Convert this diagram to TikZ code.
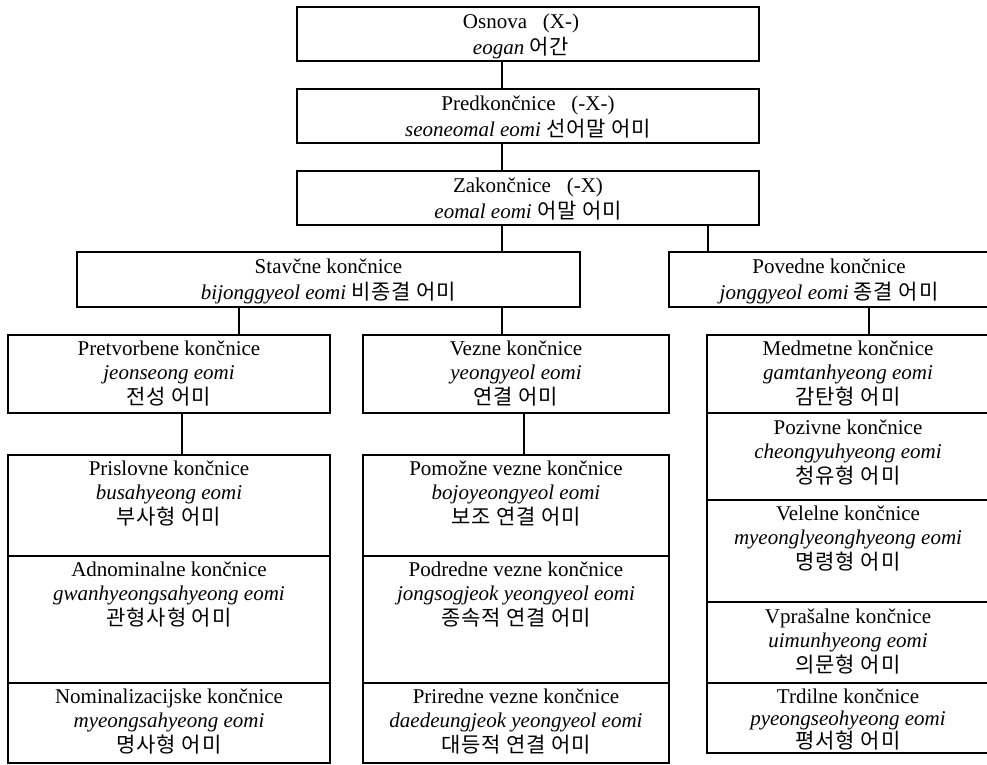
\documentclass[tikz,border=0pt]{standalone}
\usepackage{fontspec}
\setmainfont{Liberation Serif}
\newfontfamily\korfont{Noto Sans CJK KR}[LetterSpace=4]
\newcommand{\ko}[1]{{\korfont #1}}
\tikzset{
  box/.style={draw, line width=2.3pt, inner sep=0pt, outer sep=0pt},
  txt/.style={align=center, inner sep=0pt, anchor=north,
    font=\fontsize{21}{24.5}\selectfont},
  link/.style={draw, line width=2.3pt}
}

\begin{document}
\begin{tikzpicture}[x=1pt, y=-1pt]
  \useasboundingbox[fill=white] (0,0) rectangle (987,764);

  % boxes
  \begin{scope}[every node/.style={box}]
    \node[minimum width=462, minimum height=54] (osnova) at (528,34) {};
    \node[minimum width=462, minimum height=54] (predk)  at (528,116) {};
    \node[minimum width=462, minimum height=54] (zakon)  at (528,198) {};
    \node[minimum width=503, minimum height=55] (stav)   at (328.5,279.5) {};
    \node[minimum width=320, minimum height=55] (poved)  at (829,279.5) {};
    \node[minimum width=322, minimum height=78] (pretv)  at (169,374) {};
    \node[minimum width=306, minimum height=78] (vezne)  at (516,374) {};
    \node[minimum width=322, minimum height=101] (prisl) at (169,505.5) {};
    \node[minimum width=322, minimum height=127] (adnom) at (169,619.5) {};
    \node[minimum width=322, minimum height=80] (nomin)  at (169,723) {};
    \node[minimum width=306, minimum height=101] (pomoz) at (516,505.5) {};
    \node[minimum width=306, minimum height=127] (podre) at (516,619.5) {};
    \node[minimum width=306, minimum height=80] (prire)  at (516,723) {};
    \node[minimum width=282, minimum height=78] (medme)  at (848,374) {};
    \node[minimum width=282, minimum height=87] (poziv)  at (848,456.5) {};
    \node[minimum width=282, minimum height=102] (velel) at (848,551) {};
    \node[minimum width=282, minimum height=81] (vpras)  at (848,642.5) {};
    \node[minimum width=282, minimum height=70] (trdil)  at (848,718) {};
  \end{scope}

  % texts
  \begin{scope}[every node/.style={txt}]
    \node (osnova-t) at ([xshift=-7pt,yshift=-4pt]osnova.north) {\strut Osnova\ \ \ (X-)\\ \textit{eogan} \ko{어간}};
    \node (predk-t) at ([yshift=-4pt]predk.north) {\strut Predkončnice\ \ \ (-X-)\\ \textit{seoneomal eomi} \ko{선어말 어미}};
    \node (zakon-t) at ([yshift=-4pt]zakon.north) {\strut Zakončnice\ \ \ (-X)\\ \textit{eomal eomi} \ko{어말 어미}};
    \node (stav-t) at ([yshift=-4pt]stav.north) {\strut Stavčne končnice\\ \textit{bijonggyeol eomi} \ko{비종결 어미}};
    \node (poved-t) at ([yshift=-4pt]poved.north) {\strut Povedne končnice\\ \textit{jonggyeol eomi} \ko{종결 어미}};
    \node (pretv-t) at ([yshift=-3pt]pretv.north) {\strut Pretvorbene končnice\\ \textit{jeonseong eomi}\\ \ko{전성 어미}};
    \node (vezne-t) at ([yshift=-3pt]vezne.north) {\strut Vezne končnice\\ \textit{yeongyeol eomi}\\ \ko{연결 어미}};
    \node (prisl-t) at ([yshift=-3pt]prisl.north) {\strut Prislovne končnice\\ \textit{busahyeong eomi}\\ \ko{부사형 어미}};
    \node (adnom-t) at ([yshift=-3pt]adnom.north) {\strut Adnominalne končnice\\ \textit{gwanhyeongsahyeong eomi}\\ \ko{관형사형 어미}};
    \node (nomin-t) at ([yshift=-3pt]nomin.north) {\strut Nominalizacijske končnice\\ \textit{myeongsahyeong eomi}\\ \ko{명사형 어미}};
    \node (pomoz-t) at ([yshift=-3pt]pomoz.north) {\strut Pomožne vezne končnice\\ \textit{bojoyeongyeol eomi}\\ \ko{보조 연결 어미}};
    \node (podre-t) at ([yshift=-3pt]podre.north) {\strut Podredne vezne končnice\\ \textit{jongsogjeok yeongyeol eomi}\\ \ko{종속적 연결 어미}};
    \node (prire-t) at ([yshift=-3pt]prire.north) {\strut Priredne vezne končnice\\ \textit{daedeungjeok yeongyeol eomi}\\ \ko{대등적 연결 어미}};
    \node (medme-t) at ([yshift=-3pt]medme.north) {\strut Medmetne končnice\\ \textit{gamtanhyeong eomi}\\ \ko{감탄형 어미}};
    \node (poziv-t) at ([yshift=-4pt]poziv.north) {\strut Pozivne končnice\\ \textit{cheongyuhyeong eomi}\\ \ko{청유형 어미}};
    \node (velel-t) at ([yshift=-3pt]velel.north) {\strut Velelne končnice\\ \textit{myeonglyeonghyeong eomi}\\ \ko{명령형 어미}};
    \node (vpras-t) at ([yshift=-4pt]vpras.north) {\strut Vprašalne končnice\\ \textit{uimunhyeong eomi}\\ \ko{의문형 어미}};
    \node[font=\fontsize{21}{22}\selectfont] (trdil-t) at ([yshift=-4.6pt]trdil.north) {\strut Trdilne končnice\\ \textit{pyeongseohyeong eomi}\\ \ko{평서형 어미}};
  \end{scope}

  % where the links drop
  \coordinate (spine) at (502,0);
  \coordinate (povx)  at (708,0);
  \coordinate (pretx) at (239,0);
  \coordinate (medx)  at (869,0);
  \coordinate (prisx) at (182,0);
  \coordinate (pomx)  at (524,0);

  \begin{scope}[every edge/.style={link}]
    \path (osnova.south -| spine) edge (predk.north -| spine);
    \path (predk.south -| spine)  edge (zakon.north -| spine);
    \path (zakon.south -| spine)  edge (stav.north -| spine);
    \path (zakon.south -| povx)   edge (poved.north -| povx);
    \path (stav.south -| pretx)   edge (pretv.north -| pretx);
    \path (stav.south -| spine)   edge (vezne.north -| spine);
    \path (poved.south -| medx)   edge (medme.north -| medx);
    \path (pretv.south -| prisx)  edge (prisl.north -| prisx);
    \path (vezne.south -| pomx)   edge (pomoz.north -| pomx);
  \end{scope}

\end{tikzpicture}
\end{document}
